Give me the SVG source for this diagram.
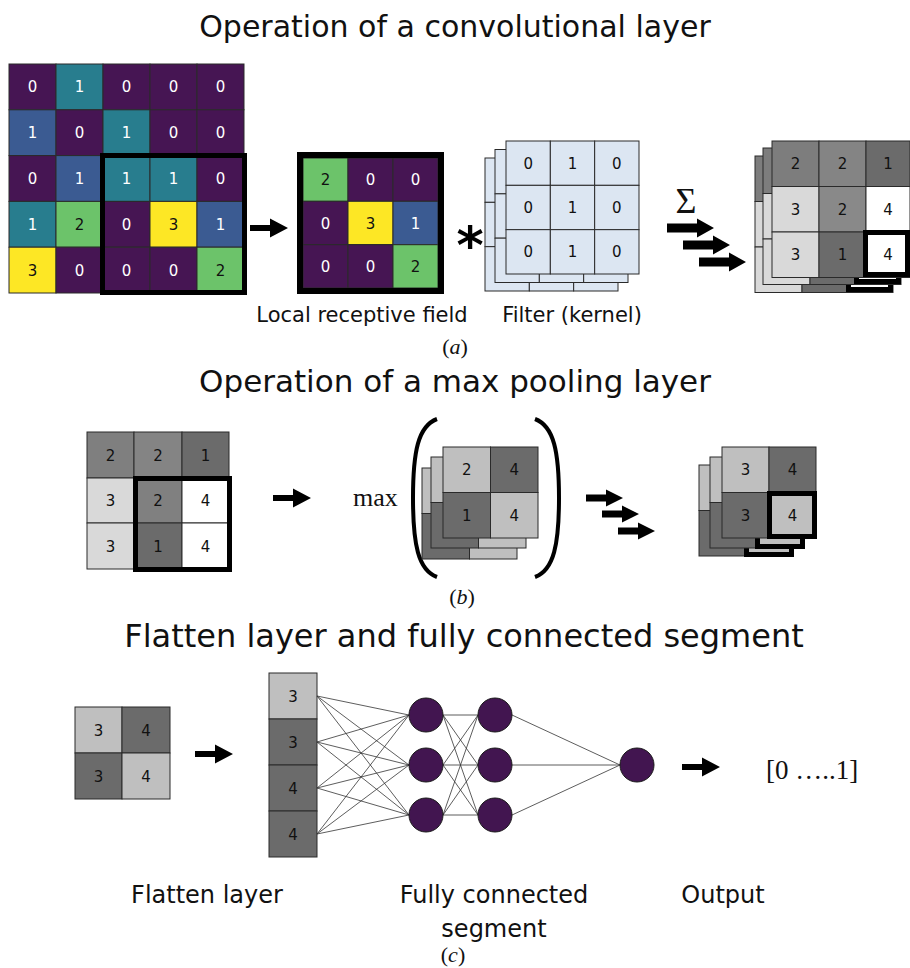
<svg xmlns="http://www.w3.org/2000/svg" xmlns:xlink="http://www.w3.org/1999/xlink" width="910" height="968" viewBox="0 0 910 968">
<style>
.title{font-family:"DejaVu Sans",Verdana,sans-serif;fill:#111;text-anchor:middle}
.lbl{font-family:"DejaVu Sans",Verdana,sans-serif;fill:#111;text-anchor:middle}
.num{font-family:"DejaVu Sans",Verdana,sans-serif;font-size:15px;text-anchor:middle;fill:#111}
.w{fill:#fff}
.serif{font-family:"Liberation Serif","Times New Roman",serif;fill:#111}
.c rect{stroke:#2a2a2a;stroke-width:1}
.P{fill:#461553}.T{fill:#287d8e}.B{fill:#3b5b92}.G{fill:#6cc36a}.Y{fill:#fde725}
.L{fill:#d9d9d9}.M{fill:#848484}.D{fill:#6b6b6b}.W{fill:#ffffff}.S{fill:#bfbfbf}.F{fill:#dce6f2}
.thick{fill:none;stroke:#000;stroke-width:5}
.arr{fill:#000}
.conn line{stroke:#333;stroke-width:0.8}
.node{fill:#421550;stroke:#1a1a1a;stroke-width:1}
</style>
<defs>
<path id="arrA" d="M0,-3 H20 V-9.5 L38,0 L20,9.5 V3 H0 Z"/>
<path id="arrS" d="M0,-4.5 H30 V-9.5 L47,0 L30,9.5 V4.5 H0 Z"/>
<path id="arrB" d="M0,-3.5 H20 V-8.5 L37,0 L20,8.5 V3.5 H0 Z"/>
<g id="filtCells" class="c">
<rect class="F" x="0" y="0" width="44.33" height="44.33"/><rect class="F" x="44.33" y="0" width="44.33" height="44.33"/><rect class="F" x="88.67" y="0" width="44.33" height="44.33"/>
<rect class="F" x="0" y="44.33" width="44.33" height="44.33"/><rect class="F" x="44.33" y="44.33" width="44.33" height="44.33"/><rect class="F" x="88.67" y="44.33" width="44.33" height="44.33"/>
<rect class="F" x="0" y="88.67" width="44.33" height="44.33"/><rect class="F" x="44.33" y="88.67" width="44.33" height="44.33"/><rect class="F" x="88.67" y="88.67" width="44.33" height="44.33"/>
</g>
<g id="outCells">
<g class="c">
<rect x="0" y="0" width="47" height="45.5" fill="#7d7d7d"/><rect x="47" y="0" width="47" height="45.5" class="M"/><rect x="94" y="0" width="44" height="45.5" class="D"/>
<rect x="0" y="45.5" width="47" height="45.5" class="L"/><rect x="47" y="45.5" width="47" height="45.5" fill="#898989"/><rect x="94" y="45.5" width="44" height="45.5" class="W"/>
<rect x="0" y="91" width="47" height="45.5" class="L"/><rect x="47" y="91" width="47" height="45.5" class="D"/><rect x="94" y="91" width="44" height="45.5" class="W"/>
</g>
<rect class="thick" x="93.5" y="91.5" width="42" height="42"/>
</g>
<g id="poolCells" class="c">
<rect x="0" y="0" width="47.5" height="45.5" class="S"/><rect x="47.5" y="0" width="47.5" height="45.5" class="D"/>
<rect x="0" y="45.5" width="47.5" height="45.5" class="D"/><rect x="47.5" y="45.5" width="47.5" height="45.5" class="S"/>
</g>
<g id="poolOutCells">
<g class="c">
<rect x="0" y="0" width="47" height="45.5" class="S"/><rect x="47" y="0" width="47" height="45.5" class="D"/>
<rect x="0" y="45.5" width="47" height="45.5" class="D"/><rect x="47" y="45.5" width="47" height="45.5" class="S"/>
</g>
<rect class="thick" x="47.5" y="46.5" width="45" height="43"/>
</g>
</defs>

<rect width="910" height="968" fill="#fff"/>

<!-- Section (a) -->
<text class="title" x="455" y="37" font-size="30">Operation of a convolutional layer</text>

<g id="input-grid">
<g class="c">
<rect class="P" x="9" y="64" width="47" height="45.8"/><rect class="T" x="56" y="64" width="47" height="45.8"/><rect class="P" x="103" y="64" width="47" height="45.8"/><rect class="P" x="150" y="64" width="47" height="45.8"/><rect class="P" x="197" y="64" width="47" height="45.8"/>
<rect class="B" x="9" y="109.8" width="47" height="45.8"/><rect class="P" x="56" y="109.8" width="47" height="45.8"/><rect class="T" x="103" y="109.8" width="47" height="45.8"/><rect class="P" x="150" y="109.8" width="47" height="45.8"/><rect class="P" x="197" y="109.8" width="47" height="45.8"/>
<rect class="P" x="9" y="155.6" width="47" height="45.8"/><rect class="B" x="56" y="155.6" width="47" height="45.8"/><rect class="T" x="103" y="155.6" width="47" height="45.8"/><rect class="T" x="150" y="155.6" width="47" height="45.8"/><rect class="P" x="197" y="155.6" width="47" height="45.8"/>
<rect class="T" x="9" y="201.4" width="47" height="45.8"/><rect class="G" x="56" y="201.4" width="47" height="45.8"/><rect class="P" x="103" y="201.4" width="47" height="45.8"/><rect class="Y" x="150" y="201.4" width="47" height="45.8"/><rect class="B" x="197" y="201.4" width="47" height="45.8"/>
<rect class="Y" x="9" y="247.2" width="47" height="45.8"/><rect class="P" x="56" y="247.2" width="47" height="45.8"/><rect class="P" x="103" y="247.2" width="47" height="45.8"/><rect class="P" x="150" y="247.2" width="47" height="45.8"/><rect class="G" x="197" y="247.2" width="47" height="45.8"/>
</g>
<g class="num">
<text class="w" x="32.5" y="92">0</text><text class="w" x="79.5" y="92">1</text><text class="w" x="126.5" y="92">0</text><text class="w" x="173.5" y="92">0</text><text class="w" x="220.5" y="92">0</text>
<text class="w" x="32.5" y="138">1</text><text class="w" x="79.5" y="138">0</text><text class="w" x="126.5" y="138">1</text><text class="w" x="173.5" y="138">0</text><text class="w" x="220.5" y="138">0</text>
<text class="w" x="32.5" y="184">0</text><text class="w" x="79.5" y="184">1</text><text class="w" x="126.5" y="184">1</text><text class="w" x="173.5" y="184">1</text><text class="w" x="220.5" y="184">0</text>
<text class="w" x="32.5" y="230">1</text><text x="79.5" y="230">2</text><text class="w" x="126.5" y="230">0</text><text x="173.5" y="230">3</text><text class="w" x="220.5" y="230">1</text>
<text x="32.5" y="276">3</text><text class="w" x="79.5" y="276">0</text><text class="w" x="126.5" y="276">0</text><text class="w" x="173.5" y="276">0</text><text x="220.5" y="276">2</text>
</g>
<rect class="thick" x="102.5" y="155.5" width="142" height="137"/>
</g>

<g id="receptive-field">
<g class="c">
<rect class="G" x="303" y="158" width="45" height="43.3"/><rect class="P" x="348" y="158" width="45" height="43.3"/><rect class="P" x="393" y="158" width="45" height="43.3"/>
<rect class="P" x="303" y="201.3" width="45" height="43.3"/><rect class="Y" x="348" y="201.3" width="45" height="43.3"/><rect class="B" x="393" y="201.3" width="45" height="43.3"/>
<rect class="P" x="303" y="244.7" width="45" height="43.3"/><rect class="P" x="348" y="244.7" width="45" height="43.3"/><rect class="G" x="393" y="244.7" width="45" height="43.3"/>
</g>
<rect x="300" y="155" width="141" height="136" fill="none" stroke="#000" stroke-width="6"/>
<g class="num">
<text x="325.5" y="185">2</text><text class="w" x="370.5" y="185">0</text><text class="w" x="415.5" y="185">0</text>
<text class="w" x="325.5" y="228.5">0</text><text x="370.5" y="228.5">3</text><text class="w" x="415.5" y="228.5">1</text>
<text class="w" x="325.5" y="272">0</text><text class="w" x="370.5" y="272">0</text><text x="415.5" y="272">2</text>
</g>
<text class="lbl" x="362" y="322" font-size="21">Local receptive field</text>
</g>

<text id="conv-op" x="470" y="263" font-family="DejaVu Sans, sans-serif" font-weight="bold" font-size="52" text-anchor="middle" fill="#000">*</text>

<g id="filter">
<use href="#filtCells" transform="translate(485,158)"/>
<use href="#filtCells" transform="translate(495,149.5)"/>
<use href="#filtCells" transform="translate(506,141)"/>
<g class="num" fill="#222">
<text x="528.2" y="168.7">0</text><text x="572.5" y="168.7">1</text><text x="616.8" y="168.7">0</text>
<text x="528.2" y="213">0</text><text x="572.5" y="213">1</text><text x="616.8" y="213">0</text>
<text x="528.2" y="257.3">0</text><text x="572.5" y="257.3">1</text><text x="616.8" y="257.3">0</text>
</g>
<text class="lbl" x="572" y="322" font-size="21">Filter (kernel)</text>
</g>

<text id="sigma" class="serif" x="686" y="213" font-size="36" text-anchor="middle">Σ</text>

<g id="conv-output">
<use href="#outCells" transform="translate(755,156)"/>
<use href="#outCells" transform="translate(763,148)"/>
<use href="#outCells" transform="translate(772,141)"/>
<g class="num">
<text x="795.5" y="169">2</text><text x="842.5" y="169">2</text><text x="888" y="169">1</text>
<text x="795.5" y="214.5">3</text><text x="842.5" y="214.5">2</text><text x="888" y="214.5">4</text>
<text x="795.5" y="260">3</text><text x="842.5" y="260">1</text><text x="888" y="260">4</text>
</g>
</g>

<text class="serif" x="455" y="354" font-size="22" text-anchor="middle">(<tspan font-style="italic">a</tspan>)</text>

<!-- Section (b) -->
<text class="title" x="455" y="392" font-size="31">Operation of a max pooling layer</text>

<g id="pool-input">
<g class="c">
<rect x="87" y="432" width="47" height="46" fill="#7f7f7f"/><rect x="134" y="432" width="48" height="46" class="M"/><rect x="182" y="432" width="47" height="46" class="D"/>
<rect x="87" y="478" width="47" height="45" class="L"/><rect x="134" y="478" width="48" height="45" fill="#808080"/><rect x="182" y="478" width="47" height="45" class="W"/>
<rect x="87" y="523" width="47" height="46" class="L"/><rect x="134" y="523" width="48" height="46" class="D"/><rect x="182" y="523" width="47" height="46" class="W"/>
</g>
<g class="num">
<text x="110.5" y="460.5">2</text><text x="158" y="460.5">2</text><text x="205.5" y="460.5">1</text>
<text x="110.5" y="506">3</text><text x="158" y="506">2</text><text x="205.5" y="506">4</text>
<text x="110.5" y="551.5">3</text><text x="158" y="551.5">1</text><text x="205.5" y="551.5">4</text>
</g>
<rect class="thick" x="135.5" y="478.5" width="94" height="91"/>
</g>

<text id="max-label" class="serif" x="353" y="506" font-size="26">max</text>

<g id="pool-windows">
<path d="M437,419 C418,426 413,452 413,498 C413,544 418,570 437,577" fill="none" stroke="#000" stroke-width="4"/>
<path d="M535,419 C554,426 559,452 559,498 C559,544 554,570 535,577" fill="none" stroke="#000" stroke-width="4"/>
<use href="#poolCells" transform="translate(422,468)"/>
<use href="#poolCells" transform="translate(431,457)"/>
<use href="#poolCells" transform="translate(443,447)"/>
<g class="num">
<text x="466.75" y="475">2</text><text x="514.25" y="475">4</text>
<text x="466.75" y="520.5">1</text><text x="514.25" y="520.5">4</text>
</g>
</g>

<g id="pool-output">
<use href="#poolOutCells" transform="translate(699,465)"/>
<use href="#poolOutCells" transform="translate(710,457)"/>
<use href="#poolOutCells" transform="translate(722,447)"/>
<g class="num">
<text x="745.5" y="475">3</text><text x="792.5" y="475">4</text>
<text x="745.5" y="520.5">3</text><text x="792.5" y="520.5">4</text>
</g>
</g>

<text class="serif" x="462" y="604" font-size="22" text-anchor="middle">(<tspan font-style="italic">b</tspan>)</text>

<!-- Section (c) -->
<text class="title" x="464" y="647" font-size="32">Flatten layer and fully connected segment</text>

<g id="flatten-input">
<g class="c">
<rect x="75" y="707" width="47" height="46" class="S"/><rect x="122" y="707" width="48" height="46" class="D"/>
<rect x="75" y="753" width="47" height="46" class="D"/><rect x="122" y="753" width="48" height="46" class="S"/>
</g>
<g class="num">
<text x="98.5" y="735.5">3</text><text x="146" y="735.5">4</text>
<text x="98.5" y="781.5">3</text><text x="146" y="781.5">4</text>
</g>
</g>

<g id="flatten-column">
<g class="c">
<rect x="269" y="673" width="48" height="46" class="S"/>
<rect x="269" y="719" width="48" height="46" class="D"/>
<rect x="269" y="765" width="48" height="46" class="D"/>
<rect x="269" y="811" width="48" height="46" class="D"/>
</g>
<g class="num">
<text x="293" y="701.5">3</text><text x="293" y="747.5">3</text><text x="293" y="793.5">4</text><text x="293" y="839.5">4</text>
</g>
</g>

<g id="connectors">
<g id="arrows" class="arr">
<use href="#arrA" transform="translate(250,228)"/>
<use href="#arrS" transform="translate(667,228)"/>
<use href="#arrS" transform="translate(683,245)"/>
<use href="#arrS" transform="translate(699,262)"/>
<use href="#arrA" transform="translate(273,498)"/>
<use href="#arrB" transform="translate(586,498)"/>
<use href="#arrB" transform="translate(602,514)"/>
<use href="#arrB" transform="translate(618,531)"/>
<use href="#arrA" transform="translate(195,754)"/>
<use href="#arrA" transform="translate(682,767)"/>
</g>
<g class="conn">
<line x1="317" y1="696" x2="409" y2="715"/><line x1="317" y1="696" x2="409" y2="765"/><line x1="317" y1="696" x2="409" y2="815"/>
<line x1="317" y1="742" x2="409" y2="715"/><line x1="317" y1="742" x2="409" y2="765"/><line x1="317" y1="742" x2="409" y2="815"/>
<line x1="317" y1="788" x2="409" y2="715"/><line x1="317" y1="788" x2="409" y2="765"/><line x1="317" y1="788" x2="409" y2="815"/>
<line x1="317" y1="834" x2="409" y2="715"/><line x1="317" y1="834" x2="409" y2="765"/><line x1="317" y1="834" x2="409" y2="815"/>
<line x1="443" y1="715" x2="478" y2="715"/><line x1="443" y1="715" x2="478" y2="765"/><line x1="443" y1="715" x2="478" y2="815"/>
<line x1="443" y1="765" x2="478" y2="715"/><line x1="443" y1="765" x2="478" y2="765"/><line x1="443" y1="765" x2="478" y2="815"/>
<line x1="443" y1="815" x2="478" y2="715"/><line x1="443" y1="815" x2="478" y2="765"/><line x1="443" y1="815" x2="478" y2="815"/>
<line x1="512" y1="715" x2="620" y2="765"/><line x1="512" y1="765" x2="620" y2="765"/><line x1="512" y1="815" x2="620" y2="765"/>
</g>
</g>

<g id="hidden-1">
<circle class="node" cx="426" cy="715" r="17"/>
<circle class="node" cx="426" cy="765" r="17"/>
<circle class="node" cx="426" cy="815" r="17"/>
</g>
<g id="hidden-2">
<circle class="node" cx="495" cy="715" r="17"/>
<circle class="node" cx="495" cy="765" r="17"/>
<circle class="node" cx="495" cy="815" r="17"/>
</g>
<g id="output-node">
<circle class="node" cx="637" cy="765" r="17"/>
</g>

<text id="output-range" class="serif" x="766" y="779" font-size="27">[0 …..1]</text>

<g id="labels-c">
<text class="lbl" x="207" y="903" font-size="24">Flatten layer</text>
<text class="lbl" x="494" y="903" font-size="24">Fully connected</text>
<text class="lbl" x="494" y="937" font-size="24">segment</text>
<text class="lbl" x="723" y="903" font-size="24">Output</text>
<text class="serif" x="453" y="962" font-size="22" text-anchor="middle">(<tspan font-style="italic">c</tspan>)</text>
</g>
</svg>
